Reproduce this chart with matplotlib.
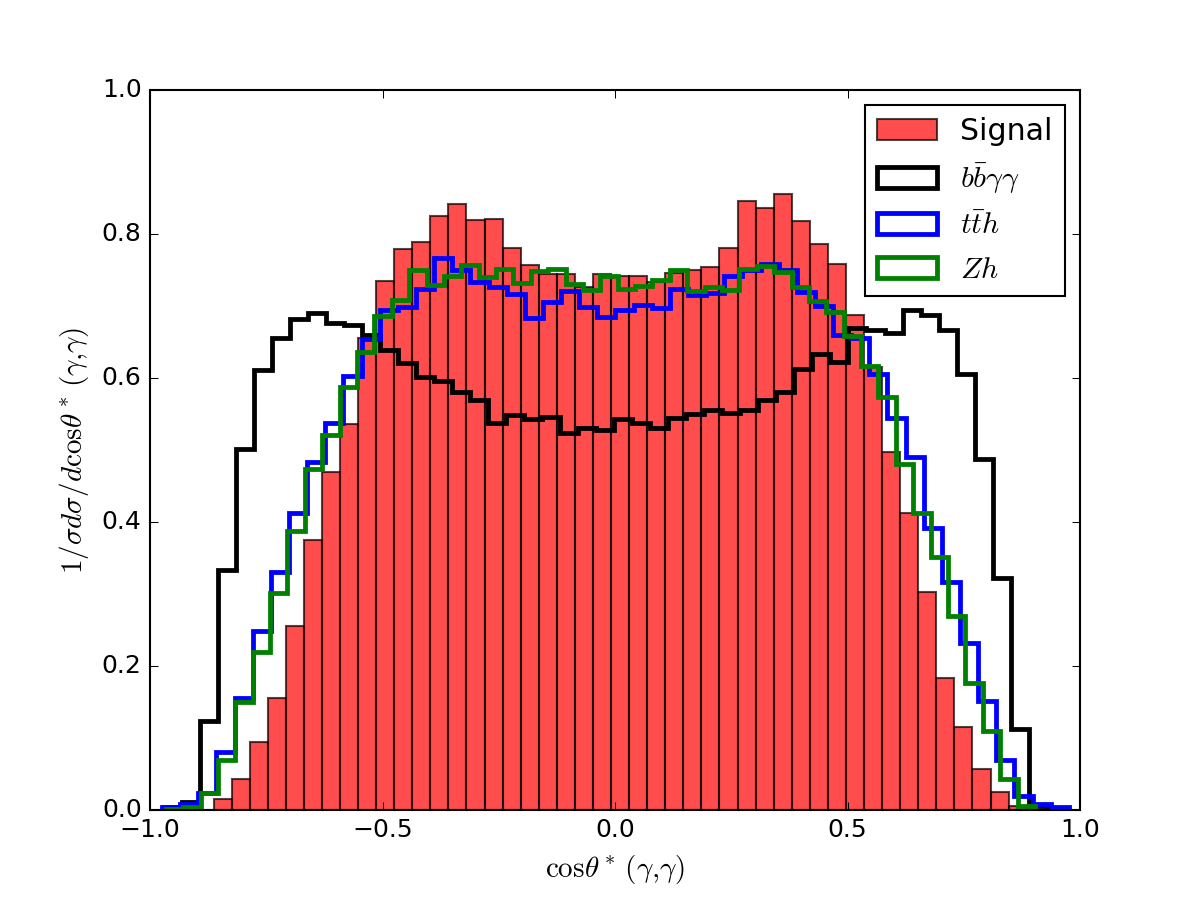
import numpy as np
import matplotlib
matplotlib.use("Agg")
import matplotlib.pyplot as plt

plt.style.use("classic")

# normalised cos(theta*) distributions, 50 bins each
signal = [0, 0, 0, 0.015, 0.043, 0.095, 0.155, 0.255, 0.375, 0.470,
          0.536, 0.656, 0.735, 0.779, 0.789, 0.825, 0.842, 0.820, 0.821, 0.781,
          0.757, 0.744, 0.745, 0.727, 0.744, 0.741, 0.741, 0.734, 0.746, 0.750,
          0.754, 0.780, 0.846, 0.836, 0.856, 0.818, 0.786, 0.759, 0.688, 0.615,
          0.497, 0.413, 0.303, 0.183, 0.115, 0.057, 0.025, 0.006, 0, 0]
signal_range = (-0.980, 0.963)

bbyy = [0.004, 0.011, 0.123, 0.333, 0.501, 0.611, 0.655, 0.682, 0.690, 0.676,
        0.674, 0.660, 0.639, 0.621, 0.601, 0.596, 0.581, 0.570, 0.538, 0.548,
        0.543, 0.546, 0.524, 0.531, 0.528, 0.543, 0.537, 0.530, 0.544, 0.550,
        0.556, 0.552, 0.556, 0.569, 0.580, 0.612, 0.633, 0.622, 0.670, 0.666,
        0.663, 0.695, 0.688, 0.667, 0.605, 0.487, 0.322, 0.113, 0.006, 0.003]
bbyy_range = (-0.970, 0.967)

tth = [0.004, 0.008, 0.023, 0.081, 0.155, 0.248, 0.331, 0.412, 0.483, 0.538,
       0.603, 0.654, 0.694, 0.699, 0.724, 0.767, 0.750, 0.734, 0.726, 0.717,
       0.684, 0.706, 0.721, 0.699, 0.685, 0.694, 0.701, 0.697, 0.724, 0.715,
       0.718, 0.741, 0.750, 0.759, 0.750, 0.719, 0.700, 0.660, 0.655, 0.606,
       0.544, 0.490, 0.392, 0.316, 0.232, 0.151, 0.070, 0.020, 0.008, 0.004]
tth_range = (-0.974, 0.976)

zh = [0.001, 0.004, 0.024, 0.070, 0.150, 0.220, 0.302, 0.388, 0.473, 0.521,
      0.587, 0.636, 0.686, 0.709, 0.750, 0.729, 0.741, 0.757, 0.740, 0.751,
      0.732, 0.748, 0.751, 0.730, 0.722, 0.742, 0.724, 0.728, 0.736, 0.750,
      0.721, 0.727, 0.722, 0.752, 0.755, 0.747, 0.726, 0.707, 0.692, 0.659,
      0.617, 0.573, 0.480, 0.413, 0.352, 0.270, 0.177, 0.110, 0.043, 0.005]
zh_range = (-0.966, 0.903)

nbins = 50


def plot_hist(ax, values, rng, **kw):
    edges = np.linspace(rng[0], rng[1], nbins + 1)
    centers = 0.5 * (edges[1:] + edges[:-1])
    ax.hist(centers, bins=edges, weights=values, **kw)


fig = plt.figure(figsize=(8, 6), dpi=150)
ax = fig.add_subplot(111)

plot_hist(ax, signal, signal_range, color='red', edgecolor='k', alpha=0.7,
          label='Signal')
plot_hist(ax, bbyy, bbyy_range, histtype='step', color='k', linewidth=2.3,
          label=r'$b\bar{b}\gamma\gamma$')
plot_hist(ax, tth, tth_range, histtype='step', color='b', linewidth=2.3,
          label=r'$t\bar{t}h$')
plot_hist(ax, zh, zh_range, histtype='step', color='g', linewidth=2.3,
          label=r'$Zh$')

ax.set_xlim(-1, 1)
ax.set_ylim(0, 1)
ax.set_xlabel(r'$\mathrm{cos}\theta^*\,(\gamma{,}\gamma)$', fontsize=14)
ax.set_ylabel(r'$1/\sigma d\sigma/d\mathrm{cos}\theta^*\,(\gamma{,}\gamma)$',
              fontsize=14)
ax.legend(loc='upper right')

fig.savefig("out.png", dpi=150)
